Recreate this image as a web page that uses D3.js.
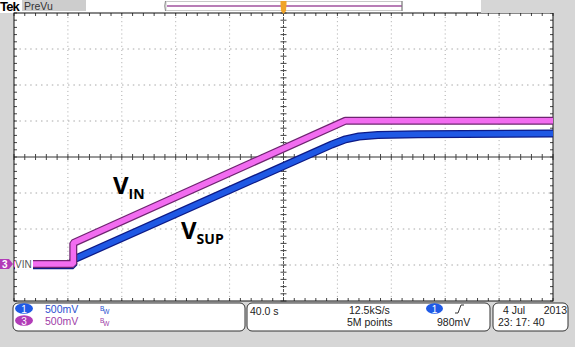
<!DOCTYPE html>
<html><head><meta charset="utf-8">
<script src="https://cdn.jsdelivr.net/npm/d3@7"></script>
<style>html,body{margin:0;padding:0;background:#d6d6d6;}svg{display:block;}</style>
</head><body>
<script>
// ---- data (time in s from left edge of screen, voltage in V) ----
const vinT  = [0, 44, 44, 246, 400];
const vinV  = [0, 0, 0.29, 1.99, 1.99];
const vsupT = [0, 44, 44, 236, 246, 256, 270, 300, 400];
const vsupV = [-0.02, -0.02, 0.06, 1.66, 1.73, 1.77, 1.79, 1.80, 1.81];
const voltsPerDiv = 0.5;
const ch3OffsetDiv = -2.97;
const ch1OffsetDiv = -2.97;
const statusCh = [{ch:"1", scale:"500mV", color:"#1f5ae6", text:"#2a4fd0"},
                  {ch:"3", scale:"500mV", color:"#b23cb8", text:"#a040a8"}];
const timebase = "40.0 s";
const sampleRate = "12.5kS/s";
const recordLen = "5M points";
const trigLevel = "980mV";
const dateStr = ["4 Jul", "2013"];
const timeStr = "23: 17: 40";

const W = 575, H = 347;
const L = 14, R = 553, T = 13, B = 301;
const svg = d3.select("body").append("svg").attr("width", W).attr("height", H);
const font = "Liberation Sans, Arial, sans-serif";

const x = d3.scaleLinear().domain([0, 400]).range([L, R]);
const yDiv = d3.scaleLinear().domain([-4, 4]).range([B, T]);

// backgrounds
svg.append("rect").attr("x",0).attr("y",0).attr("width",W).attr("height",H).attr("fill","#d6d6d6");
svg.append("rect").attr("x",0).attr("y",0).attr("width",481).attr("height",T).attr("fill","#fff");
svg.append("rect").attr("x",L).attr("y",T).attr("width",R-L).attr("height",B-T).attr("fill","#fff");

// grid
const g = svg.append("g");
const xMajor = d3.range(0, 401, 40);
const yMajor = d3.range(-4, 5, 1);
xMajor.forEach(t => {
  if (t===0||t===400||t===200) return;
  g.append("line").attr("x1",x(t)).attr("x2",x(t)).attr("y1",T).attr("y2",B)
   .attr("stroke","#a8a8a8").attr("stroke-width",1).attr("stroke-dasharray","1,3.1");
});
yMajor.forEach(d => {
  if (d===-4||d===4||d===0) return;
  g.append("line").attr("x1",L).attr("x2",R).attr("y1",yDiv(d)).attr("y2",yDiv(d))
   .attr("stroke","#a8a8a8").attr("stroke-width",1).attr("stroke-dasharray","1.5,3.9");
});
// center lines
g.append("line").attr("x1",L).attr("x2",R).attr("y1",yDiv(0)).attr("y2",yDiv(0)).attr("stroke","#333");
g.append("line").attr("x1",x(200)).attr("x2",x(200)).attr("y1",T).attr("y2",B).attr("stroke","#555").attr("stroke-dasharray","3,1");
// minor ticks
const xMinor = d3.range(0, 400.01, 8);
const yMinor = d3.range(-4, 4.01, 0.2);
xMinor.forEach(t => {
  g.append("line").attr("x1",x(t)).attr("x2",x(t)).attr("y1",yDiv(0)-3).attr("y2",yDiv(0)+3).attr("stroke","#444");
  g.append("line").attr("x1",x(t)).attr("x2",x(t)).attr("y1",T).attr("y2",T+3).attr("stroke","#444");
  g.append("line").attr("x1",x(t)).attr("x2",x(t)).attr("y1",B-3).attr("y2",B).attr("stroke","#444");
});
yMinor.forEach(d => {
  g.append("line").attr("x1",x(200)-3).attr("x2",x(200)+3).attr("y1",yDiv(d)).attr("y2",yDiv(d)).attr("stroke","#444");
  g.append("line").attr("x1",L).attr("x2",L+3).attr("y1",yDiv(d)).attr("y2",yDiv(d)).attr("stroke","#444");
  g.append("line").attr("x1",R-3).attr("x2",R).attr("y1",yDiv(d)).attr("y2",yDiv(d)).attr("stroke","#444");
});
g.append("rect").attr("x",L).attr("y",T).attr("width",R-L).attr("height",B-T).attr("fill","none").attr("stroke","#111");

// traces
svg.append("clipPath").attr("id","pc").append("rect").attr("x",L).attr("y",T).attr("width",R-L).attr("height",B-T);
const tr = svg.append("g").attr("clip-path","url(#pc)");
function drawTrace(ts, vs, off, dark, fill) {
  const pts = ts.map((t,i)=>[x(t), yDiv(vs[i]/voltsPerDiv + off)]);
  const line = d3.line();
  tr.append("path").attr("d", line(pts)).attr("fill","none").attr("stroke",dark).attr("stroke-width",8).attr("stroke-linejoin","bevel");
  tr.append("path").attr("d", line(pts)).attr("fill","none").attr("stroke",fill).attr("stroke-width",5.5).attr("stroke-linejoin","bevel");
}
drawTrace(vsupT, vsupV, ch1OffsetDiv, "#0d1a86", "#1f58e4");
drawTrace(vinT, vinV, ch3OffsetDiv, "#6e2470", "#f26cf0");

// trace labels
function vLabel(px, py, sub) {
  const t = svg.append("text").attr("x",px).attr("y",py).attr("font-family","Open Sans, Liberation Sans, sans-serif")
   .attr("font-weight","bold").attr("fill","#000");
  t.append("tspan").attr("font-size",24).text("V");
  t.append("tspan").attr("font-size",14).attr("dy",5).text(sub);
}
vLabel(113, 194, "IN");
vLabel(181, 239, "SUP");

// ch3 ground marker
const gy = yDiv(ch3OffsetDiv);
svg.append("rect").attr("x",L+1).attr("y",gy-6).attr("width",18).attr("height",12).attr("fill","#fff");
svg.append("path").attr("d",`M0,${gy-5}H9L13,${gy}L9,${gy+5}H0Z`).attr("fill","#b23cb8");
svg.append("text").attr("x",2).attr("y",gy+4).attr("font-family",font).attr("font-size",10).attr("font-weight","bold").attr("fill","#fff").text("3");
svg.append("text").attr("x",L+1).attr("y",gy+4).attr("font-family",font).attr("font-size",10).attr("fill","#555").text("VIN");

// header
svg.append("rect").attr("x",22).attr("y",0).attr("width",64).attr("height",11).attr("fill","#cdcdcd");
svg.append("text").attr("x",0).attr("y",11).attr("font-family",font).attr("font-size",13).attr("font-weight","bold").attr("letter-spacing",-0.8).attr("fill","#000").text("Tek");
svg.append("text").attr("x",24).attr("y",10).attr("font-family",font).attr("font-size",10.5).attr("fill","#333").text("PreVu");
svg.append("rect").attr("x",481).attr("y",0).attr("width",94).attr("height",T).attr("fill","#d6d6d6");
svg.append("rect").attr("x",166).attr("y",1.5).attr("width",236).attr("height",9).attr("fill","#fff").attr("stroke","#c8c8c8");
svg.append("line").attr("x1",167).attr("x2",402).attr("y1",6).attr("y2",6).attr("stroke","#a0529e").attr("stroke-width",1.5);
svg.append("line").attr("x1",402).attr("x2",402).attr("y1",1).attr("y2",11).attr("stroke","#777");
svg.append("path").attr("d","M165.5,1 Q164,6 165.5,11").attr("fill","none").attr("stroke","#888");
svg.append("path").attr("d",`M${x(200)-3},1 H${x(200)+3} V4 L${x(200)+2.5},11 L${x(200)},14 L${x(200)-2.5},11 L${x(200)-3},4 Z`).attr("fill","#f0a428");

// status boxes
const sb = svg.append("g").attr("font-family",font).attr("font-size",10.5);
[[13,232],[247,243],[493,75]].forEach(([bx,bw]) => {
  sb.append("rect").attr("x",bx).attr("y",303).attr("width",bw).attr("height",28).attr("rx",5).attr("fill","#fff").attr("stroke","#333");
});
statusCh.forEach((c,i) => {
  const cy = 308.5 + i*12;
  sb.append("ellipse").attr("cx",24).attr("cy",cy).attr("rx",9).attr("ry",5.2).attr("fill",c.color);
  sb.append("text").attr("x",24).attr("y",cy+4).attr("text-anchor","middle").attr("fill","#fff").attr("font-size",10).text(c.ch);
  sb.append("text").attr("x",45).attr("y",cy+4).attr("fill",c.text).text(c.scale);
  const bw = sb.append("text").attr("x",100).attr("y",cy+2).attr("fill",c.text).attr("font-size",6.5);
  bw.append("tspan").text("B");
  bw.append("tspan").attr("dy",3).attr("dx",-1).text("W");
});
sb.append("text").attr("x",250).attr("y",315).attr("fill","#222").text(timebase);
sb.append("text").attr("x",349).attr("y",314).attr("fill","#222").text(sampleRate);
sb.append("text").attr("x",347).attr("y",326).attr("fill","#222").text(recordLen);
sb.append("ellipse").attr("cx",434.5).attr("cy",308.5).attr("rx",8.5).attr("ry",5.2).attr("fill","#1f5ae6");
sb.append("text").attr("x",434.5).attr("y",312.5).attr("text-anchor","middle").attr("fill","#fff").attr("font-size",10).text("1");
sb.append("path").attr("d","M455,313 L458,313 L461,305 L464,305").attr("fill","none").attr("stroke","#333");
sb.append("text").attr("x",437).attr("y",326).attr("fill","#222").text(trigLevel);
sb.append("text").attr("x",503).attr("y",314).attr("fill","#222").text(dateStr[0]);
sb.append("text").attr("x",567).attr("y",314).attr("text-anchor","end").attr("fill","#222").text(dateStr[1]);
sb.append("text").attr("x",498).attr("y",326).attr("fill","#222").text(timeStr);
</script>
</body></html>
